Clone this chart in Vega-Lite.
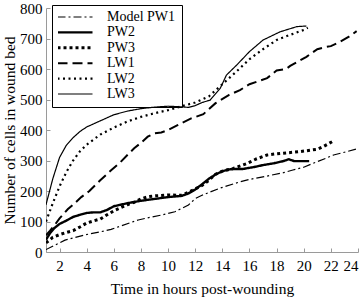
{
  "$schema": "https://vega.github.io/schema/vega-lite/v6.json",
  "width": 312,
  "height": 244,
  "autosize": {"type": "none"},
  "padding": {"left": 46, "top": 8, "right": 6, "bottom": 46},
  "background": "white",
  "config": {
    "view": {"stroke": null},
    "font": "Liberation Serif",
    "axis": {
      "labelFont": "Liberation Serif",
      "titleFont": "Liberation Serif",
      "labelFontSize": 15,
      "titleFontSize": 15.5,
      "titleFontWeight": "normal",
      "labelColor": "black",
      "titleColor": "black",
      "domainColor": "#9a9a9a",
      "tickColor": "#9a9a9a",
      "tickSize": -4,
      "labelPadding": 8,
      "grid": false
    },
    "legend": {
      "labelFont": "Liberation Serif",
      "labelFontSize": 14,
      "labelColor": "black"
    }
  },
  "data": {
    "values": [
      {"series": "Model PW1", "t": 1, "v": 8},
      {"series": "Model PW1", "t": 2, "v": 30},
      {"series": "Model PW1", "t": 2.4, "v": 39},
      {"series": "Model PW1", "t": 3, "v": 46},
      {"series": "Model PW1", "t": 3.85, "v": 56},
      {"series": "Model PW1", "t": 5, "v": 66},
      {"series": "Model PW1", "t": 5.8, "v": 74},
      {"series": "Model PW1", "t": 6.5, "v": 85},
      {"series": "Model PW1", "t": 7.8, "v": 105},
      {"series": "Model PW1", "t": 8.5, "v": 112},
      {"series": "Model PW1", "t": 9.5, "v": 121},
      {"series": "Model PW1", "t": 10.5, "v": 132},
      {"series": "Model PW1", "t": 11.5, "v": 154},
      {"series": "Model PW1", "t": 12, "v": 175},
      {"series": "Model PW1", "t": 12.5, "v": 186},
      {"series": "Model PW1", "t": 13.8, "v": 209},
      {"series": "Model PW1", "t": 15.3, "v": 230},
      {"series": "Model PW1", "t": 16, "v": 238},
      {"series": "Model PW1", "t": 17.3, "v": 249},
      {"series": "Model PW1", "t": 18.5, "v": 260},
      {"series": "Model PW1", "t": 19.2, "v": 269},
      {"series": "Model PW1", "t": 20, "v": 278},
      {"series": "Model PW1", "t": 20.7, "v": 291},
      {"series": "Model PW1", "t": 21.5, "v": 305},
      {"series": "Model PW1", "t": 22.2, "v": 318},
      {"series": "Model PW1", "t": 23, "v": 327},
      {"series": "Model PW1", "t": 23.9, "v": 338},

      {"series": "PW2", "t": 1, "v": 40},
      {"series": "PW2", "t": 1.3, "v": 62},
      {"series": "PW2", "t": 1.6, "v": 78},
      {"series": "PW2", "t": 2, "v": 92},
      {"series": "PW2", "t": 2.5, "v": 103},
      {"series": "PW2", "t": 3, "v": 115},
      {"series": "PW2", "t": 3.5, "v": 122},
      {"series": "PW2", "t": 4, "v": 128},
      {"series": "PW2", "t": 4.5, "v": 130},
      {"series": "PW2", "t": 5, "v": 130},
      {"series": "PW2", "t": 5.5, "v": 138},
      {"series": "PW2", "t": 6, "v": 150},
      {"series": "PW2", "t": 6.5, "v": 155},
      {"series": "PW2", "t": 7, "v": 160},
      {"series": "PW2", "t": 8, "v": 168},
      {"series": "PW2", "t": 9, "v": 174},
      {"series": "PW2", "t": 10, "v": 180},
      {"series": "PW2", "t": 11, "v": 184},
      {"series": "PW2", "t": 11.5, "v": 192},
      {"series": "PW2", "t": 12, "v": 205},
      {"series": "PW2", "t": 12.5, "v": 222},
      {"series": "PW2", "t": 13, "v": 240},
      {"series": "PW2", "t": 13.5, "v": 254},
      {"series": "PW2", "t": 14, "v": 265},
      {"series": "PW2", "t": 14.5, "v": 271},
      {"series": "PW2", "t": 15, "v": 272},
      {"series": "PW2", "t": 15.5, "v": 272},
      {"series": "PW2", "t": 16, "v": 276},
      {"series": "PW2", "t": 16.5, "v": 280},
      {"series": "PW2", "t": 17, "v": 285},
      {"series": "PW2", "t": 17.8, "v": 291},
      {"series": "PW2", "t": 18.5, "v": 298},
      {"series": "PW2", "t": 18.9, "v": 304},
      {"series": "PW2", "t": 19.3, "v": 298},
      {"series": "PW2", "t": 20, "v": 298},
      {"series": "PW2", "t": 20.4, "v": 298},

      {"series": "PW3", "t": 1, "v": 30},
      {"series": "PW3", "t": 1.5, "v": 48},
      {"series": "PW3", "t": 2, "v": 57},
      {"series": "PW3", "t": 2.5, "v": 64},
      {"series": "PW3", "t": 3, "v": 70},
      {"series": "PW3", "t": 3.5, "v": 82},
      {"series": "PW3", "t": 4, "v": 95},
      {"series": "PW3", "t": 4.5, "v": 102},
      {"series": "PW3", "t": 5, "v": 108},
      {"series": "PW3", "t": 5.5, "v": 122},
      {"series": "PW3", "t": 6, "v": 135},
      {"series": "PW3", "t": 6.5, "v": 145},
      {"series": "PW3", "t": 7, "v": 155},
      {"series": "PW3", "t": 7.5, "v": 163},
      {"series": "PW3", "t": 8, "v": 174},
      {"series": "PW3", "t": 8.5, "v": 181},
      {"series": "PW3", "t": 9, "v": 184},
      {"series": "PW3", "t": 10, "v": 187},
      {"series": "PW3", "t": 11, "v": 186},
      {"series": "PW3", "t": 11.5, "v": 196},
      {"series": "PW3", "t": 12, "v": 207},
      {"series": "PW3", "t": 12.5, "v": 218},
      {"series": "PW3", "t": 13, "v": 235},
      {"series": "PW3", "t": 13.5, "v": 255},
      {"series": "PW3", "t": 14, "v": 265},
      {"series": "PW3", "t": 14.8, "v": 274},
      {"series": "PW3", "t": 15.8, "v": 290},
      {"series": "PW3", "t": 16.5, "v": 305},
      {"series": "PW3", "t": 17.3, "v": 318},
      {"series": "PW3", "t": 18, "v": 322},
      {"series": "PW3", "t": 18.5, "v": 324},
      {"series": "PW3", "t": 19.7, "v": 329},
      {"series": "PW3", "t": 21, "v": 337},
      {"series": "PW3", "t": 21.5, "v": 347},
      {"series": "PW3", "t": 22.1, "v": 362},

      {"series": "LW1", "t": 1, "v": 55},
      {"series": "LW1", "t": 1.3, "v": 70},
      {"series": "LW1", "t": 1.63, "v": 88},
      {"series": "LW1", "t": 2, "v": 110},
      {"series": "LW1", "t": 2.6, "v": 140},
      {"series": "LW1", "t": 3, "v": 155},
      {"series": "LW1", "t": 3.6, "v": 180},
      {"series": "LW1", "t": 4.2, "v": 200},
      {"series": "LW1", "t": 5, "v": 235},
      {"series": "LW1", "t": 5.8, "v": 268},
      {"series": "LW1", "t": 6.5, "v": 295},
      {"series": "LW1", "t": 7, "v": 318},
      {"series": "LW1", "t": 7.5, "v": 340},
      {"series": "LW1", "t": 8, "v": 358},
      {"series": "LW1", "t": 8.5, "v": 378},
      {"series": "LW1", "t": 9, "v": 389},
      {"series": "LW1", "t": 9.5, "v": 392},
      {"series": "LW1", "t": 10, "v": 400},
      {"series": "LW1", "t": 10.7, "v": 416},
      {"series": "LW1", "t": 11.7, "v": 438},
      {"series": "LW1", "t": 12.6, "v": 452},
      {"series": "LW1", "t": 13.5, "v": 488},
      {"series": "LW1", "t": 14.5, "v": 515},
      {"series": "LW1", "t": 15.3, "v": 531},
      {"series": "LW1", "t": 16, "v": 550},
      {"series": "LW1", "t": 17.3, "v": 570},
      {"series": "LW1", "t": 18, "v": 595},
      {"series": "LW1", "t": 18.7, "v": 600},
      {"series": "LW1", "t": 19, "v": 610},
      {"series": "LW1", "t": 20.2, "v": 640},
      {"series": "LW1", "t": 21, "v": 665},
      {"series": "LW1", "t": 21.7, "v": 673},
      {"series": "LW1", "t": 22, "v": 675},
      {"series": "LW1", "t": 22.7, "v": 690},
      {"series": "LW1", "t": 23.3, "v": 705},
      {"series": "LW1", "t": 23.9, "v": 724},

      {"series": "LW2", "t": 1, "v": 100},
      {"series": "LW2", "t": 1.5, "v": 160},
      {"series": "LW2", "t": 2, "v": 215},
      {"series": "LW2", "t": 2.5, "v": 262},
      {"series": "LW2", "t": 3, "v": 300},
      {"series": "LW2", "t": 3.5, "v": 330},
      {"series": "LW2", "t": 4, "v": 352},
      {"series": "LW2", "t": 5, "v": 385},
      {"series": "LW2", "t": 6, "v": 408},
      {"series": "LW2", "t": 7, "v": 428},
      {"series": "LW2", "t": 8, "v": 443},
      {"series": "LW2", "t": 9, "v": 455},
      {"series": "LW2", "t": 10, "v": 465},
      {"series": "LW2", "t": 11, "v": 478},
      {"series": "LW2", "t": 12, "v": 490},
      {"series": "LW2", "t": 13, "v": 510},
      {"series": "LW2", "t": 14, "v": 550},
      {"series": "LW2", "t": 15, "v": 590},
      {"series": "LW2", "t": 16, "v": 632},
      {"series": "LW2", "t": 17, "v": 665},
      {"series": "LW2", "t": 18, "v": 695},
      {"series": "LW2", "t": 19, "v": 712},
      {"series": "LW2", "t": 20, "v": 728},
      {"series": "LW2", "t": 20.3, "v": 735},

      {"series": "LW3", "t": 1, "v": 155},
      {"series": "LW3", "t": 1.5, "v": 240},
      {"series": "LW3", "t": 2, "v": 310},
      {"series": "LW3", "t": 2.5, "v": 350},
      {"series": "LW3", "t": 3, "v": 375},
      {"series": "LW3", "t": 3.5, "v": 395},
      {"series": "LW3", "t": 4, "v": 410},
      {"series": "LW3", "t": 5, "v": 430},
      {"series": "LW3", "t": 6, "v": 450},
      {"series": "LW3", "t": 7, "v": 462},
      {"series": "LW3", "t": 8, "v": 470},
      {"series": "LW3", "t": 9, "v": 475},
      {"series": "LW3", "t": 10, "v": 478},
      {"series": "LW3", "t": 11, "v": 476},
      {"series": "LW3", "t": 11.5, "v": 474},
      {"series": "LW3", "t": 12, "v": 480},
      {"series": "LW3", "t": 12.5, "v": 490},
      {"series": "LW3", "t": 13.1, "v": 498},
      {"series": "LW3", "t": 13.85, "v": 537},
      {"series": "LW3", "t": 14.3, "v": 580},
      {"series": "LW3", "t": 15.06, "v": 613},
      {"series": "LW3", "t": 16, "v": 657},
      {"series": "LW3", "t": 17, "v": 695},
      {"series": "LW3", "t": 18.26, "v": 722},
      {"series": "LW3", "t": 19.5, "v": 739},
      {"series": "LW3", "t": 20.2, "v": 741}
    ]
  },
  "mark": {"type": "line", "color": "black", "strokeCap": "butt", "clip": true},
  "encoding": {
    "x": {
      "field": "t",
      "type": "quantitative",
      "scale": {"domain": [1, 24], "nice": false, "zero": false},
      "axis": {
        "title": "Time in hours post-wounding",
        "values": [2, 4, 6, 8, 10, 12, 14, 16, 18, 20, 22, 24],
        "labelPadding": 10,
        "titlePadding": 8
      }
    },
    "y": {
      "field": "v",
      "type": "quantitative",
      "scale": {"domain": [0, 800], "nice": false},
      "axis": {
        "title": "Number of cells in wound bed",
        "values": [0, 100, 200, 300, 400, 500, 600, 700, 800],
        "titlePadding": 2
      }
    },
    "detail": {"field": "series", "type": "nominal"},
    "strokeDash": {
      "field": "series",
      "type": "nominal",
      "scale": {
        "domain": ["Model PW1", "PW2", "PW3", "LW1", "LW2", "LW3"],
        "range": [[8, 3, 2, 3], [1, 0], [3, 3], [10, 5], [2, 3.5], [1, 0]]
      },
      "legend": {
        "title": null,
        "orient": "none",
        "legendX": 6,
        "legendY": -3,
        "strokeColor": "black",
        "padding": 6,
        "symbolType": "stroke",
        "symbolSize": 1225,
        "symbolStrokeColor": "black",
        "symbolOffset": -2,
        "labelOffset": 13,
        "clipHeight": 12,
        "rowPadding": 1.4
      }
    },
    "strokeWidth": {
      "field": "series",
      "type": "nominal",
      "scale": {
        "type": "ordinal",
        "domain": ["Model PW1", "PW2", "PW3", "LW1", "LW2", "LW3"],
        "range": [1.2, 2.4, 3, 2, 2.2, 1.2]
      },
      "legend": {
        "title": null,
        "orient": "none",
        "legendX": 6,
        "legendY": -3,
        "strokeColor": "black",
        "padding": 6,
        "symbolType": "stroke",
        "symbolSize": 1225,
        "symbolStrokeColor": "black",
        "symbolOffset": -2,
        "labelOffset": 13,
        "clipHeight": 12,
        "rowPadding": 1.4
      }
    }
  }
}
